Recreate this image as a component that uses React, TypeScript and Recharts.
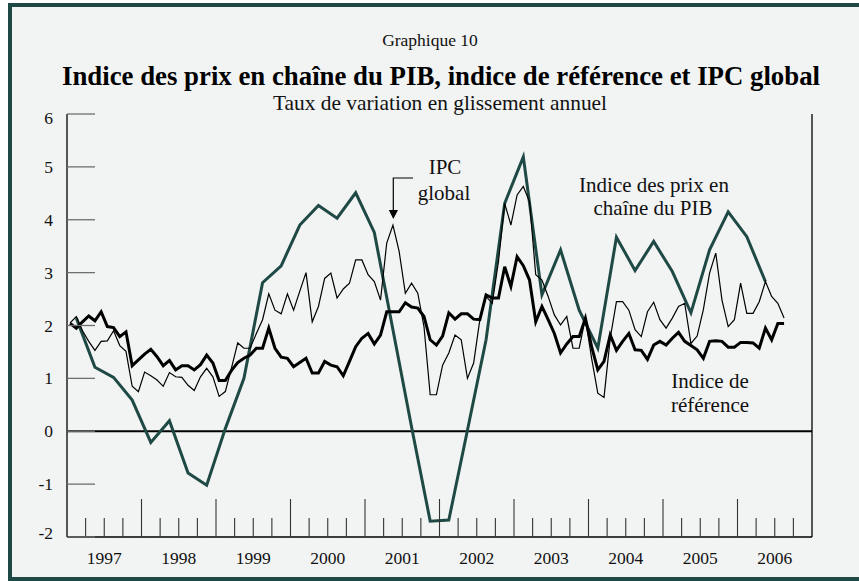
import React from 'react';
import { LineChart, Line, XAxis, YAxis, ReferenceLine } from 'recharts';

const years = ['1997', '1998', '1999', '2000', '2001', '2002', '2003', '2004', '2005', '2006'];
const yTicks = [-2, -1, 0, 1, 2, 3, 4, 5, 6];

// IPC global (mensuel, glissement annuel)
const ipcGlobal = [
  2.05, 2.17, 1.9, 1.7, 1.53, 1.7, 1.71, 1.9, 1.62, 1.51, 0.85, 0.75,
  1.12, 1.05, 0.97, 0.85, 1.11, 1.03, 1.02, 0.87, 0.77, 1.03, 1.19, 1.03,
  0.66, 0.75, 1.2, 1.67, 1.57, 1.57, 1.85, 2.11, 2.6, 2.29, 2.22, 2.6,
  2.29, 2.65, 3.0, 2.07, 2.36, 2.89, 2.99, 2.52, 2.69, 2.8, 3.24, 3.24,
  2.96, 2.83, 2.48, 3.56, 3.9, 3.4, 2.61, 2.8, 2.61, 1.98, 0.69, 0.69,
  1.25, 1.48, 1.82, 1.73, 1.0, 1.29, 2.11, 2.55, 2.42, 3.21, 4.31, 3.9,
  4.47, 4.63, 4.34, 2.96, 2.86, 2.55, 2.2, 2.01, 2.17, 1.57, 1.57, 2.14,
  1.38, 0.72, 0.64, 1.76, 2.45, 2.45, 2.29, 1.92, 1.79, 2.26, 2.44, 2.11,
  1.95, 2.14, 2.36, 2.42, 1.66, 1.8, 2.3, 2.99, 3.37, 2.48, 1.98, 2.11,
  2.8, 2.23, 2.23, 2.45, 2.83, 2.55, 2.42, 2.14,
];

// Indice de référence (mensuel)
const indiceReference = [
  2.04, 1.95, 2.07, 2.18, 2.09, 2.26, 1.98, 1.96, 1.79, 1.88, 1.24, 1.35,
  1.46, 1.55, 1.41, 1.24, 1.34, 1.16, 1.24, 1.24, 1.16, 1.26, 1.44, 1.29,
  0.96, 0.96, 1.15, 1.3, 1.38, 1.44, 1.57, 1.57, 1.95, 1.57, 1.4, 1.38,
  1.22, 1.3, 1.38, 1.1, 1.1, 1.32, 1.25, 1.22, 1.05, 1.32, 1.6, 1.76,
  1.85, 1.65, 1.82, 2.26, 2.26, 2.26, 2.43, 2.35, 2.33, 2.17, 1.73, 1.63,
  1.8, 2.24, 2.12, 2.22, 2.22, 2.12, 2.11, 2.58, 2.52, 2.52, 3.11, 2.74,
  3.3, 3.13, 2.86, 2.07, 2.36, 2.11, 1.85, 1.48, 1.65, 1.79, 1.79, 2.14,
  1.6, 1.16, 1.32, 1.82, 1.53, 1.7, 1.85, 1.54, 1.53, 1.36, 1.63, 1.7,
  1.63, 1.76, 1.87, 1.7, 1.62, 1.54, 1.38, 1.7, 1.71, 1.7, 1.59, 1.59,
  1.68, 1.68, 1.67, 1.57, 1.95, 1.73, 2.04, 2.04,
];

// Indice des prix en chaîne du PIB (trimestriel)
const prixPIB = [
  2.14, 1.21, 1.02, 0.59, -0.21, 0.2, -0.79, -1.02,
  0.05, 1.0, 2.81, 3.13, 3.9, 4.27, 4.03, 4.51,
  3.76, 1.92, 0.08, -1.7, -1.68, 0.02, 1.73, 4.31,
  5.19, 2.58, 3.43, 2.29, 1.57, 3.67, 3.04, 3.59,
  3.02, 2.24, 3.43, 4.15, 3.68, 2.83,
];

const START = 1997;
const ipcData = ipcGlobal.map((v, i) => ({ x: START + (i + 0.5) / 12, v }));
const refData = indiceReference.map((v, i) => ({ x: START + (i + 0.5) / 12, v }));
const pibData = prixPIB.map((v, i) => ({ x: START + (i + 0.5) / 4, v }));

const xTicks: number[] = [];
for (let q = 1; q < years.length * 4; q++) xTicks.push(START + q / 4);

const FONT = '"Liberation Serif", "Times New Roman", Times, serif';
const GREEN = '#1f4944';
const TICK_GRAY = '#6e6e6e';
const serif = { fontFamily: FONT };

const XTick = (props: any) => {
  const { x, y, payload } = props;
  const val: number = payload.value;
  const frac = val - Math.floor(val);
  const major = frac === 0;
  const label = frac === 0.5 ? years[Math.floor(val) - START] : null;
  return (
    <g>
      <line x1={x} x2={x} y1={y} y2={y - (major ? 38 : 19)} stroke="#333" strokeWidth={1.1} />
      {label && (
        <text x={x} y={y + 27} textAnchor="middle" style={serif} fontSize={17.5} fill="#111">
          {label}
        </text>
      )}
    </g>
  );
};

const edgeShift = (v: number) => (v === 6 ? 4 : v === -2 ? -4.5 : 0);

const LeftTick = (props: any) => {
  const { x, y, payload } = props;
  const v: number = payload.value;
  return (
    <g>
      <line x1={x} x2={x + 28} y1={y} y2={y} stroke={TICK_GRAY} strokeWidth={1.3} />
      <text x={x - 14} y={y + 6 + edgeShift(v)} textAnchor="end" style={serif} fontSize={17.5} fill="#111">
        {String(v)}
      </text>
    </g>
  );
};

const RightTick = (props: any) => {
  const { x, y, payload } = props;
  const v: number = payload.value;
  return (
    <g>
      <line x1={x} x2={x - 28} y1={y} y2={y} stroke={TICK_GRAY} strokeWidth={1.3} />
      <text x={x + 31} y={y + 6 + edgeShift(v)} textAnchor="end" style={serif} fontSize={17.5} fill="#111">
        {String(v)}
      </text>
    </g>
  );
};

export default function App() {
  return (
    <div style={{ position: 'absolute', left: 0, top: 0, width: 859, height: 581, background: '#ffffff', overflow: 'hidden' }}>
      <div
        style={{
          position: 'absolute',
          left: 8,
          top: 3,
          width: 856,
          height: 578,
          boxSizing: 'border-box',
          border: `4px solid ${GREEN}`,
          background: '#f2f3f3',
        }}
      />
      <div style={{ position: 'absolute', left: 0, top: 0 }}>
        <LineChart width={859} height={581} margin={{ top: 114, right: 0, bottom: 0, left: 0 }}>
          <XAxis
            xAxisId={0}
            type="number"
            dataKey="x"
            domain={[START, START + years.length]}
            ticks={xTicks}
            interval={0}
            height={44}
            tickSize={0}
            tickMargin={0}
            tickLine={false}
            axisLine={{ stroke: '#000', strokeWidth: 1.3 }}
            tick={<XTick />}
            allowDataOverflow
          />
          <YAxis
            yAxisId="left"
            orientation="left"
            type="number"
            domain={[-2, 6]}
            ticks={yTicks}
            interval={0}
            width={67}
            tickSize={0}
            tickMargin={0}
            tickLine={false}
            axisLine={{ stroke: '#000', strokeWidth: 1.3 }}
            tick={<LeftTick />}
          />
          <YAxis
            yAxisId="right"
            orientation="right"
            type="number"
            domain={[-2, 6]}
            ticks={yTicks}
            interval={0}
            width={47}
            tickSize={0}
            tickMargin={0}
            tickLine={false}
            axisLine={{ stroke: '#000', strokeWidth: 1.3 }}
            tick={<RightTick />}
          />
          <ReferenceLine y={0} yAxisId="left" stroke="#000" strokeWidth={2} ifOverflow="extendDomain" />
          <Line
            data={pibData}
            dataKey="v"
            yAxisId="left"
            type="linear"
            stroke={GREEN}
            strokeWidth={3}
            dot={false}
            isAnimationActive={false}
          />
          <Line
            data={refData}
            dataKey="v"
            yAxisId="left"
            type="linear"
            stroke="#000"
            strokeWidth={3}
            dot={false}
            isAnimationActive={false}
          />
          <Line
            data={ipcData}
            dataKey="v"
            yAxisId="left"
            type="linear"
            stroke="#000"
            strokeWidth={1.2}
            dot={false}
            isAnimationActive={false}
          />
        </LineChart>
      </div>
      <svg
        width={859}
        height={581}
        style={{ position: 'absolute', left: 0, top: 0, pointerEvents: 'none', fontFamily: FONT }}
      >
        <text x={430} y={46} textAnchor="middle" fontSize={17.5} fill="#111" style={serif}>Graphique 10</text>
        <text x={441} y={85} textAnchor="middle" fontSize={26.8} fontWeight="bold" fill="#000" style={serif}>
          Indice des prix en chaîne du PIB, indice de référence et IPC global
        </text>
        <text x={440} y={110} textAnchor="middle" fontSize={21.4} fill="#111" style={serif}>Taux de variation en glissement annuel</text>

        <text x={445} y={174} textAnchor="middle" fontSize={21} fill="#111" style={serif}>IPC</text>
        <text x={444} y={200} textAnchor="middle" fontSize={21} fill="#111" style={serif}>global</text>
        <polyline points="413,178 393.3,178 393.3,211" fill="none" stroke="#000" strokeWidth={1.2} />
        <polygon points="388.8,210 398,210 393.3,219" fill="#000" />

        <text x={654} y={192} textAnchor="middle" fontSize={21} fill="#111" style={serif}>Indice des prix en</text>
        <text x={653} y={215} textAnchor="middle" fontSize={21} fill="#111" style={serif}>chaîne du PIB</text>

        <text x={710} y={388} textAnchor="middle" fontSize={21} fill="#111" style={serif}>Indice de</text>
        <text x={710} y={412} textAnchor="middle" fontSize={21} fill="#111" style={serif}>référence</text>
      </svg>
    </div>
  );
}
